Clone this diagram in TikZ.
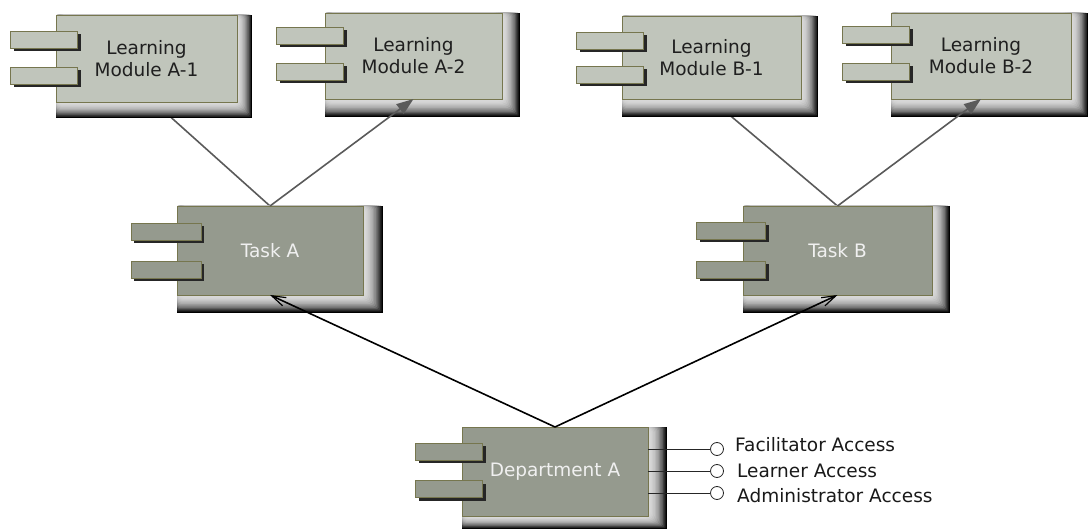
\documentclass[tikz,border=0pt]{standalone}
\usepackage{fontspec}
\setmainfont{DejaVu Sans}
\usetikzlibrary{arrows.meta,shadows,calc}
\pgfdeclarelayer{bg}
\pgfsetlayers{bg,main}
\definecolor{lightfill}{HTML}{C0C5BB}
\definecolor{darkfill}{HTML}{959A8E}
\definecolor{edgeol}{HTML}{76764E}
\definecolor{conngray}{HTML}{5A5A5A}
\definecolor{shlight}{HTML}{DADADA}
\tikzset{
  boxbase/.style={draw=edgeol, line width=0.8pt, inner sep=0pt, outer sep=0pt, align=center,
    font=\fontsize{18.5}{22}\selectfont},
  modbox/.style={boxbase, fill=lightfill, text=black!88},
  taskbox/.style={boxbase, fill=darkfill, text=white!94!black},
  portbox/.style={draw=edgeol, line width=0.8pt, inner sep=0pt, outer sep=0pt,
    minimum width=67pt, minimum height=17pt,
    general shadow={fill=black!85, shadow xshift=3pt, shadow yshift=-3pt}},
  iface/.style={circle, draw=black!85, fill=white, line width=0.8pt, minimum size=13pt, inner sep=0pt},
  lbl/.style={inner sep=0pt, font=\fontsize{18.5}{22}\selectfont, text=black!90},
  gconn/.style={draw=conngray, line width=1.6pt},
  bconn/.style={draw=black, line width=1.6pt, -{Straight Barb[length=14pt,width=9pt,line width=1.2pt]}},
  ifline/.style={draw=black!85, line width=0.9pt}
}
\newcommand\fadeshadow[6]{%
  \foreach \i in {0,...,14}{%
    \pgfmathtruncatemacro\pc{100*((14-\i)/14)^2.2}%
    \pgfmathsetmacro\ex{#3+#5*(14-\i)/14}%
    \pgfmathsetmacro\ey{#4+#6*(14-\i)/14}%
    \pgfmathsetmacro\rc{\i*0.55}%
    \fill[black!\pc!shlight, rounded corners=\rc pt] (#1,#2) rectangle (\ex,\ey);
  }%
}
\begin{document}
\begin{tikzpicture}[x=1pt,y=-1pt]
\useasboundingbox (0,0) rectangle (1090,529);

% ---------- Learning Module A-1
\fadeshadow{56}{15}{237}{102}{15}{16}
\node[modbox, minimum width=181pt, minimum height=87pt] (lmA1) at (146.5,58.5) {Learning\\Module A-1};
\node[portbox, fill=lightfill] (lmA1p1) at (44,40) {};
\node[portbox, fill=lightfill] (lmA1p2) at (44,75.5) {};

% ---------- Learning Module A-2
\fadeshadow{325}{13}{502}{99}{18}{18}
\node[modbox, minimum width=177pt, minimum height=86pt] (lmA2) at (413.5,56) {Learning\\Module A-2};
\node[portbox, fill=lightfill] (lmA2p1) at (310,35.5) {};
\node[portbox, fill=lightfill] (lmA2p2) at (310,71.5) {};

% ---------- Learning Module B-1
\fadeshadow{622}{16}{801}{99}{17}{18}
\node[modbox, minimum width=179pt, minimum height=83pt] (lmB1) at (711.5,57.5) {Learning\\Module B-1};
\node[portbox, fill=lightfill] (lmB1p1) at (610,40.5) {};
\node[portbox, fill=lightfill] (lmB1p2) at (610,75) {};

% ---------- Learning Module B-2
\fadeshadow{891}{13}{1071}{99}{17}{18}
\node[modbox, minimum width=180pt, minimum height=86pt] (lmB2) at (981,56) {Learning\\Module B-2};
\node[portbox, fill=lightfill] (lmB2p1) at (876,35) {};
\node[portbox, fill=lightfill] (lmB2p2) at (876,72) {};

% ---------- Task A
\fadeshadow{177}{206}{363}{295}{20}{18}
\node[taskbox, minimum width=186pt, minimum height=89pt] (taskA) at (270,250.5) {Task A};
\node[portbox, fill=darkfill, minimum width=70pt] (taskAp1) at (166,232) {};
\node[portbox, fill=darkfill, minimum width=70pt] (taskAp2) at (166,270) {};

% ---------- Task B
\fadeshadow{743}{206}{932}{295}{18}{18}
\node[taskbox, minimum width=189pt, minimum height=89pt] (taskB) at (837.5,250.5) {Task B};
\node[portbox, fill=darkfill, minimum width=69pt] (taskBp1) at (731,231) {};
\node[portbox, fill=darkfill, minimum width=69pt] (taskBp2) at (731,269.5) {};

% ---------- Department A
\fadeshadow{462}{427}{648}{516}{19}{13}
\node[taskbox, minimum width=186pt, minimum height=89pt] (dept) at (555,471.5) {Department A};
\node[portbox, fill=darkfill] (deptp1) at (449,451.5) {};
\node[portbox, fill=darkfill] (deptp2) at (449,489) {};

% ---------- interfaces
\node[iface] (ifF) at (717,449) {};
\node[iface] (ifL) at (717,471) {};
\node[iface] (ifA) at (717,493) {};
\draw[ifline] (dept.east |- ifF.west) -- (ifF.west);
\draw[ifline] (dept.east |- ifL.west) -- (ifL.west);
\draw[ifline] (dept.east |- ifA.west) -- (ifA.west);
\node[lbl, anchor=base west] (lblF) at (735,451) {Facilitator Access};
\node[lbl, anchor=base west] (lblL) at (737,477) {Learner Access};
\node[lbl, anchor=base west] (lblA) at (737,502) {Administrator Access};

% ---------- connectors
\coordinate (a1tail) at (165,112);
\coordinate (b1tail) at (726,112);
\begin{pgfonlayer}{bg}
\draw[gconn] (a1tail) -- (taskA.north);
\draw[gconn] (b1tail) -- (taskB.north);
\end{pgfonlayer}
\draw[gconn, -{Triangle[length=17pt,width=12pt]}] (taskA.north) -- (lmA2.south);
\draw[gconn, -{Triangle[length=17pt,width=12pt]}] (taskB.north) -- (lmB2.south);
\draw[bconn] (dept.north) -- (taskA.south);
\draw[bconn] (dept.north) -- (taskB.south);
\end{tikzpicture}
\end{document}
